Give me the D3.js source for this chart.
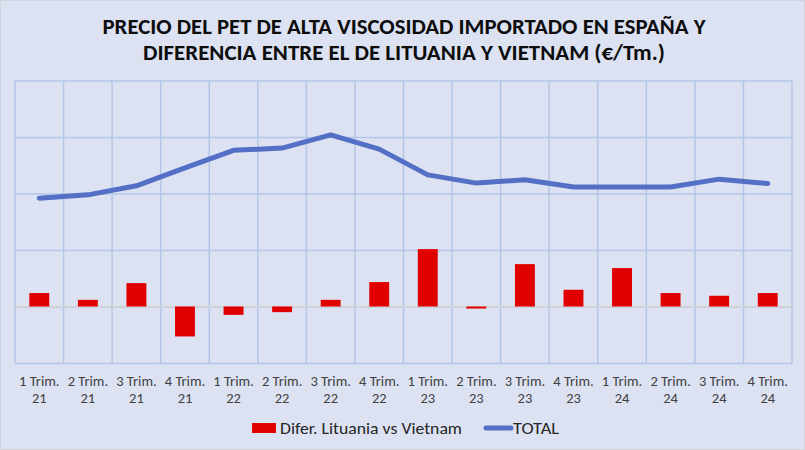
<!DOCTYPE html>
<html>
<head>
<meta charset="utf-8">
<script src="https://cdn.jsdelivr.net/npm/d3@7"></script>
<style>
  body { margin: 0; background: #fff; }
  text { font-family: Carlito, "Liberation Sans", Arial, sans-serif; }
</style>
</head>
<body>
<div id="chart"></div>
<script>
// quarters shown on the x axis
var quarters = ['1 Trim. 21','2 Trim. 21','3 Trim. 21','4 Trim. 21',
                '1 Trim. 22','2 Trim. 22','3 Trim. 22','4 Trim. 22',
                '1 Trim. 23','2 Trim. 23','3 Trim. 23','4 Trim. 23',
                '1 Trim. 24','2 Trim. 24','3 Trim. 24','4 Trim. 24']
// difference Lithuania vs Vietnam (bars)
var difer = [119, 59, 207, -265, -74, -50, 59, 216, 508, -18, 375, 148, 340, 119, 95, 119]
// total import price (line)
var total = [959, 988, 1068, 1227, 1382, 1402, 1519, 1393, 1165, 1092, 1121, 1057, 1057, 1057, 1127, 1088]
var gridTicks = [-500, 0, 500, 1000, 1500, 2000]

var width = 805, height = 450
var margin = {top: 80.5, right: 13, bottom: 87, left: 15}
var w = width - margin.left - margin.right
var h = height - margin.top - margin.bottom

var svg = d3.select('#chart').append('svg')
  .attr('width', width).attr('height', height)

svg.append('rect')
  .attr('x', 0.5).attr('y', 0.5)
  .attr('width', width - 1).attr('height', height - 1)
  .attr('fill', '#dce2f2')
  .attr('stroke', '#d0d4dc')

// title
var titleLines = ['PRECIO DEL PET DE ALTA VISCOSIDAD IMPORTADO EN ESPAÑA Y',
                  'DIFERENCIA ENTRE EL DE LITUANIA Y VIETNAM (€/Tm.)']
svg.selectAll('.title').data(titleLines).enter()
  .append('text')
  .attr('class', 'title')
  .attr('x', 404)
  .attr('y', function(d, i){ return i == 0 ? 34.3 : 60.3 })
  .attr('text-anchor', 'middle')
  .attr('font-size', 23)
  .attr('font-weight', 'bold')
  .attr('fill', '#0d0d0d')
  .attr('textLength', function(d, i){ return i == 0 ? 603 : 522 })
  .attr('lengthAdjust', 'spacingAndGlyphs')
  .text(function(d){ return d })

var g = svg.append('g')
  .attr('transform', 'translate(' + margin.left + ',' + margin.top + ')')

var x = d3.scaleBand().domain(quarters).range([0, w]).paddingInner(0).paddingOuter(0)
var y = d3.scaleLinear().domain([-500, 2000]).range([h, 0])

// horizontal grid
var yGrid = g.append('g')
  .call(d3.axisLeft(y).tickValues(gridTicks).tickSize(-w).tickFormat(''))
yGrid.select('.domain').remove()
yGrid.selectAll('line').attr('stroke', '#b4c6e7').attr('stroke-width', 1.5)

// vertical grid on category boundaries
g.selectAll('.vgrid').data(quarters.concat(['end'])).enter()
  .append('line')
  .attr('class', 'vgrid')
  .attr('x1', function(d, i){ return i * x.step() })
  .attr('x2', function(d, i){ return i * x.step() })
  .attr('y1', 0).attr('y2', h)
  .attr('stroke', '#b4c6e7').attr('stroke-width', 1.5)

// zero line
g.append('line')
  .attr('x1', 0).attr('x2', w)
  .attr('y1', y(0)).attr('y2', y(0))
  .attr('stroke', '#d9d6d0').attr('stroke-width', 1.5)

// bars
var barW = x.bandwidth() * 0.41
g.selectAll('.bar').data(difer).enter()
  .append('rect')
  .attr('class', 'bar')
  .attr('x', function(d, i){ return x(quarters[i]) + (x.bandwidth() - barW) / 2 })
  .attr('y', function(d){ return y(Math.max(0, d)) })
  .attr('width', barW)
  .attr('height', function(d){ return Math.abs(y(d) - y(0)) })
  .attr('fill', '#e00000')

// line
var line = d3.line()
  .x(function(d, i){ return x(quarters[i]) + x.bandwidth() / 2 })
  .y(function(d){ return y(d) })
g.append('path')
  .datum(total)
  .attr('d', line)
  .attr('fill', 'none')
  .attr('stroke', '#5470c6')
  .attr('stroke-width', 5)
  .attr('stroke-linecap', 'round')
  .attr('stroke-linejoin', 'round')

// x axis labels
var xAxis = g.append('g')
  .attr('transform', 'translate(0,' + h + ')')
  .call(d3.axisBottom(x).tickSize(0).tickFormat(''))
xAxis.select('.domain').remove()
xAxis.selectAll('.tick').each(function(d){
  var parts = d.split(' ')
  var t = d3.select(this).append('text')
    .attr('fill', '#404040')
    .style('font-size', '14.5px')
    .attr('text-anchor', 'middle')
  t.append('tspan').attr('x', 0).attr('y', 23).text(parts[0] + ' ' + parts[1])
  t.append('tspan').attr('x', 0).attr('y', 40).text(parts[2])
})

// legend
var legend = svg.append('g').attr('transform', 'translate(0,428)')
legend.append('rect')
  .attr('x', 252).attr('y', -5).attr('width', 24).attr('height', 10)
  .attr('fill', '#e00000')
legend.append('text')
  .attr('x', 280).attr('y', 5.5)
  .attr('font-size', 15.5).attr('fill', '#262626')
  .attr('textLength', 182).attr('lengthAdjust', 'spacingAndGlyphs')
  .text('Difer. Lituania vs Vietnam')
legend.append('line')
  .attr('x1', 486).attr('x2', 511).attr('y1', 0).attr('y2', 0)
  .attr('stroke', '#5470c6').attr('stroke-width', 5).attr('stroke-linecap', 'round')
legend.append('text')
  .attr('x', 513).attr('y', 5.5)
  .attr('font-size', 15.5).attr('fill', '#262626')
  .attr('textLength', 46).attr('lengthAdjust', 'spacingAndGlyphs')
  .text('TOTAL')
</script>
</body>
</html>
